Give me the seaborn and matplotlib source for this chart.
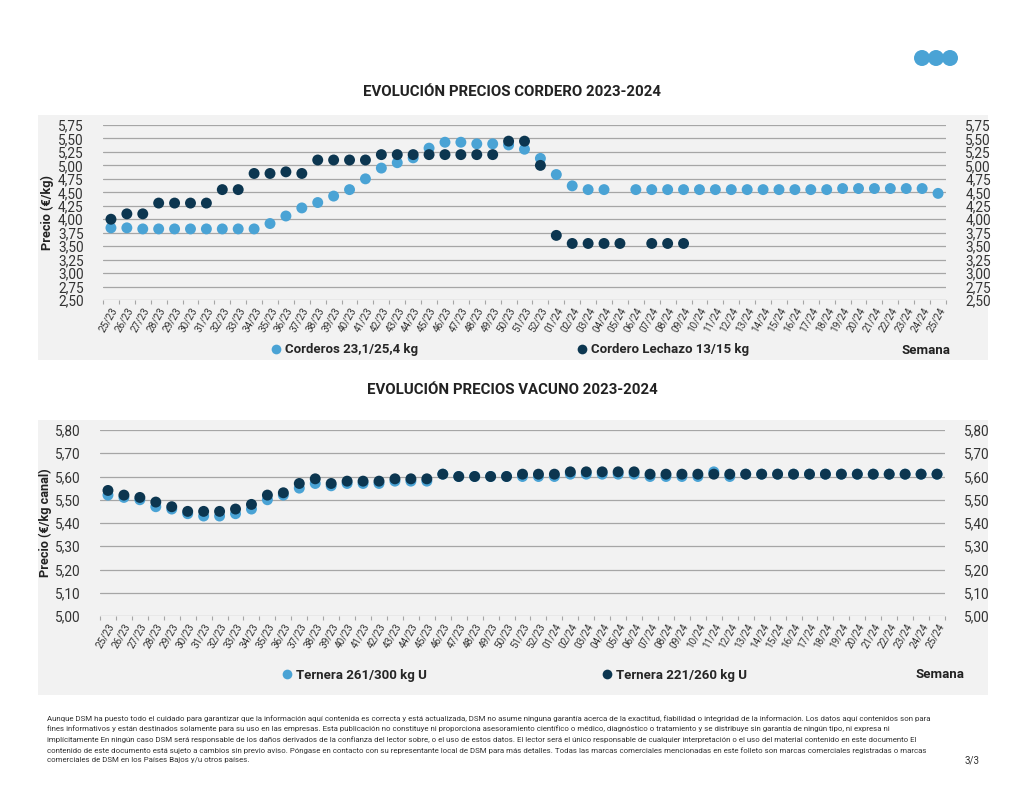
import numpy as np
import pandas as pd
import seaborn as sns
import matplotlib.pyplot as plt
from matplotlib.lines import Line2D
from matplotlib.patches import Rectangle, Circle
from matplotlib.ticker import FuncFormatter, FixedLocator

nan = np.nan

weeks = [f"{w}/23" for w in range(25, 53)] + [f"{w:02d}/24" for w in range(1, 26)]

# Cordero (EUR/kg)
corderos = [3.84, 3.84, 3.82, 3.82, 3.82, 3.82, 3.82, 3.82, 3.82, 3.82,
            3.92, 4.06, 4.21, 4.31, 4.43, 4.55, 4.75, 4.95, 5.05, 5.14,
            5.32, 5.43, 5.43, 5.40, 5.40, 5.38, 5.30, 5.13,
            4.83, 4.62, 4.55, 4.55, nan, 4.55, 4.55, 4.55, 4.55, 4.55,
            4.55, 4.55, 4.55, 4.55, 4.55, 4.55, 4.55, 4.55, 4.57, 4.57,
            4.57, 4.57, 4.57, 4.57, 4.48]
lechazo = [4.00, 4.10, 4.10, 4.30, 4.30, 4.30, 4.30, 4.55, 4.55, 4.85,
           4.85, 4.88, 4.85, 5.10, 5.10, 5.10, 5.10, 5.20, 5.20, 5.20,
           5.20, 5.20, 5.20, 5.20, 5.20, 5.45, 5.45, 5.00,
           3.70, 3.55, 3.55, 3.55, 3.55, nan, 3.55, 3.55, 3.55, nan,
           nan, nan, nan, nan, nan, nan, nan, nan, nan, nan,
           nan, nan, nan, nan, nan]

# Vacuno (EUR/kg canal)
ternera_261 = [5.52, 5.51, 5.50, 5.47, 5.46, 5.44, 5.43, 5.43, 5.44, 5.46,
               5.50, 5.52, 5.55, 5.57, 5.56, 5.57, 5.57, 5.57, 5.58, 5.58,
               5.58, 5.61, 5.60, 5.60, 5.60, 5.60, 5.60, 5.60,
               5.60, 5.61, 5.61, 5.61, 5.61, 5.61, 5.60, 5.60, 5.60, 5.60,
               5.62, 5.60, 5.61, 5.61, 5.61, 5.61, 5.61, 5.61, 5.61, 5.61,
               5.61, 5.61, 5.61, 5.61, 5.61]
ternera_221 = [5.54, 5.52, 5.51, 5.49, 5.47, 5.45, 5.45, 5.45, 5.46, 5.48,
               5.52, 5.53, 5.57, 5.59, 5.57, 5.58, 5.58, 5.58, 5.59, 5.59,
               5.59, 5.61, 5.60, 5.60, 5.60, 5.60, 5.61, 5.61,
               5.61, 5.62, 5.62, 5.62, 5.62, 5.62, 5.61, 5.61, 5.61, 5.61,
               5.61, 5.61, 5.61, 5.61, 5.61, 5.61, 5.61, 5.61, 5.61, 5.61,
               5.61, 5.61, 5.61, 5.61, 5.61]

LIGHT = "#4aa3d5"
DARK = "#0c3650"
PANEL = "#f2f2f2"
GRID = "#a6a6a6"
TEXT = "#222222"

sns.set_theme(style="white")
plt.rcParams["font.family"] = ["Roboto", "DejaVu Sans"]

W, H = 1024, 791


def fx(px):
    return px / W


def fy(py):
    return 1 - py / H


def comma(fmt):
    return FuncFormatter(lambda v, _: format(v, fmt).replace(".", ","))


def draw_panel(fig, rect_px, ax_px, title, title_y, s1, s2, names, yticks, fmt,
               ylabel, ylabel_x, legend_px):
    x0, y0, x1, y1 = rect_px
    fig.patches.append(Rectangle((fx(x0), fy(y1)), fx(x1 - x0), fy(y0) - fy(y1),
                                 transform=fig.transFigure, facecolor=PANEL,
                                 edgecolor="none", zorder=-10))
    fig.text(0.5, fy(title_y), title, ha="center", va="center",
             fontsize=10.8, fontweight="bold", color=TEXT)

    l, t, r, b = ax_px
    ax = fig.add_axes([fx(l), fy(b), fx(r - l), fy(t) - fy(b)])
    ax.set_facecolor(PANEL)

    df = pd.DataFrame({"pos": np.arange(len(weeks)), "week": weeks,
                       names[0]: s1, names[1]: s2})
    long = df.melt(id_vars=["pos", "week"], var_name="serie", value_name="precio")
    long = long.dropna()
    sns.scatterplot(data=long, x="pos", y="precio", hue="serie",
                    hue_order=names, palette=[LIGHT, DARK], s=62,
                    edgecolor="none", legend=False, ax=ax, zorder=3)

    ax.set_xlim(-0.5, len(weeks) - 0.5)
    ax.set_ylim(yticks[0], yticks[-1])
    ax.yaxis.set_major_locator(FixedLocator(yticks))
    ax.yaxis.set_major_formatter(comma(fmt))
    ax.grid(axis="y", color=GRID, linewidth=0.9, zorder=1)
    ax.grid(axis="x", visible=False)
    ax.set_axisbelow(True)
    for sp in ax.spines.values():
        sp.set_visible(False)

    ax.set_xticks(np.arange(len(weeks)))
    ax.set_xticklabels(weeks, rotation=60, ha="right", rotation_mode="anchor",
                       fontsize=7.2, color="#333333")
    ax.set_xticks(np.arange(len(weeks) + 1) - 0.5, minor=True)
    ax.tick_params(axis="x", which="major", length=0, pad=4)
    ax.tick_params(axis="x", which="minor", length=3, width=0.8,
                   color=GRID, bottom=True)
    ax.tick_params(axis="y", length=0, labelsize=9.8, labelcolor="#333333",
                   labelleft=True, labelright=True, pad=14)
    ax.set_xlabel("")
    ax.set_ylabel("")
    fig.text(fx(ylabel_x), (fy(t) + fy(b)) / 2, ylabel, rotation=90,
             ha="center", va="center", fontsize=9.2, fontweight="bold", color=TEXT)

    for (px, py), name, col in zip(legend_px[:2], names, [LIGHT, DARK]):
        h = Line2D([], [], marker="o", linestyle="none", markersize=7,
                   markerfacecolor=col, markeredgecolor="none")
        fig.legend(handles=[h], labels=[name], loc="center left",
                   bbox_to_anchor=(fx(px), fy(py)), frameon=False,
                   handlelength=0.6, handletextpad=0.35, borderaxespad=0,
                   borderpad=0, prop={"weight": "bold", "size": 9.5})
    sx, sy = legend_px[2]
    fig.text(fx(sx), fy(sy), "Semana", ha="right", va="center",
             fontsize=9.5, fontweight="bold", color=TEXT)
    return ax


fig = plt.figure(figsize=(W / 100, H / 100), dpi=100)
fig.patch.set_facecolor("white")

draw_panel(fig, (38, 115, 988, 360), (103, 125, 946, 300),
           "EVOLUCIÓN PRECIOS CORDERO 2023-2024", 92,
           corderos, lechazo, ["Corderos 23,1/25,4 kg", "Cordero Lechazo 13/15 kg"],
           np.arange(2.50, 5.76, 0.25), ".2f", "Precio (€/kg)", 47,
           [(272, 350), (578, 350), (951, 350)])

draw_panel(fig, (38, 420, 988, 695), (100, 430, 945, 616),
           "EVOLUCIÓN PRECIOS VACUNO 2023-2024", 390,
           ternera_261, ternera_221, ["Ternera 261/300 kg U", "Ternera 221/260 kg U"],
           np.arange(5.00, 5.81, 0.10), ".2f", "Precio (€/kg canal)", 45,
           [(283, 675), (603, 675), (965, 675)])

# logo: three overlapping dots (inches, so they stay round)
for cx in (922, 936, 950):
    fig.patches.append(Circle((cx / 100, (H - 58) / 100), 0.08,
                              transform=fig.dpi_scale_trans,
                              facecolor=LIGHT, edgecolor="none"))

disclaimer = (
    "Aunque DSM ha puesto todo el cuidado para garantizar que la información aquí contenida es correcta y está actualizada, DSM no asume ninguna garantía acerca de la exactitud, fiabilidad o integridad de la información. Los datos aquí contenidos son para\n"
    "fines informativos y están destinados solamente para su uso en las empresas. Esta publicación no constituye ni proporciona asesoramiento científico o médico, diagnóstico o tratamiento y se distribuye sin garantía de ningún tipo, ni expresa ni\n"
    "implícitamente En ningún caso DSM será responsable de los daños derivados de la confianza del lector sobre, o el uso de estos datos. El lector será el único responsable de cualquier interpretación o el uso del material contenido en este documento El\n"
    "contenido de este documento está sujeto a cambios sin previo aviso. Póngase en contacto con su representante local de DSM para más detalles. Todas las marcas comerciales mencionadas en este folleto son marcas comerciales registradas o marcas\n"
    "comerciales de DSM en los Países Bajos y/u otros países."
)
fig.text(fx(47), fy(715), disclaimer, ha="left", va="top", fontsize=5.7,
         color="#333333", linespacing=1.68)
fig.text(fx(980), fy(760), "3/3", ha="right", va="center", fontsize=7, color="#333333")

fig.savefig("out.png", dpi=100, facecolor="white")
